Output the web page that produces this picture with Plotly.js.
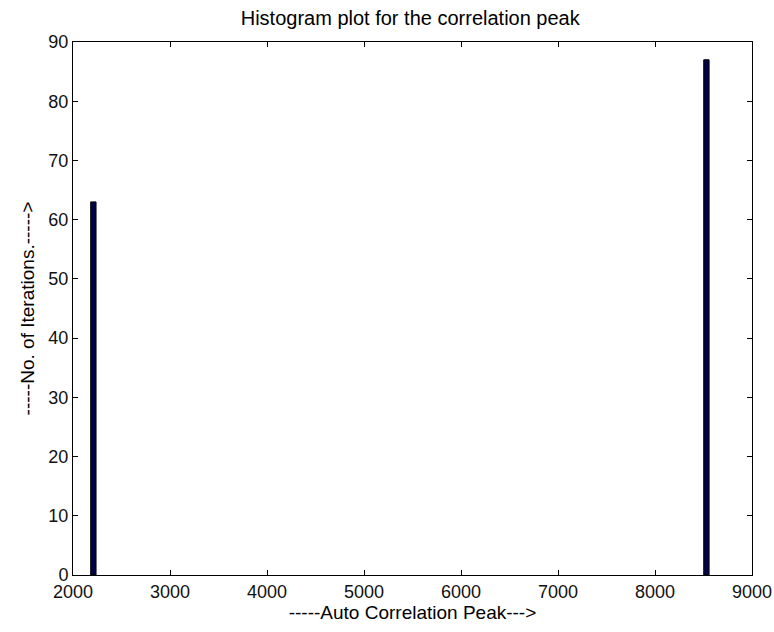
<!DOCTYPE html>
<html>
<head>
<script src="https://cdn.plot.ly/plotly-3.0.1.min.js"></script>
<style>body{margin:0;padding:0;background:#fff;}</style>
</head>
<body>
<div id="chart" style="width:774px;height:632px;"></div>
<script>
const binCenters = [2210, 8530];
const counts = [63, 87];
const xTicks = [2000, 3000, 4000, 5000, 6000, 7000, 8000, 9000];
const yTicks = [0, 10, 20, 30, 40, 50, 60, 70, 80, 90];

const FONT = 'Liberation Sans, Arial, sans-serif';

const trace = {
  type: 'bar',
  x: binCenters,
  y: counts,
  width: 55,
  marker: {color: '#000048', line: {color: '#000000', width: 1}},
  hoverinfo: 'x+y'
};

const axisCommon = {
  showline: true, mirror: 'ticks', linecolor: '#000', linewidth: 1,
  ticks: 'inside', ticklen: 5, tickcolor: '#000',
  showgrid: false, zeroline: false,
  tickfont: {family: FONT, size: 18, color: '#111'}
};

const layout = {
  width: 774, height: 632,
  margin: {l: 73, r: 22, t: 42, b: 57},
  paper_bgcolor: '#fff', plot_bgcolor: '#fff',
  showlegend: false,
  title: {text: 'Histogram plot for the correlation peak', x: 0.53, xanchor: 'center', y: 0.972, yanchor: 'middle',
          font: {family: FONT, size: 20, color: '#000'}},
  xaxis: Object.assign({}, axisCommon, {
    range: [2000, 9000], tickvals: xTicks, ticktext: xTicks.map(String),
    title: {text: '-----Auto Correlation Peak--->', standoff: 2, font: {family: FONT, size: 19, color: '#000'}}
  }),
  yaxis: Object.assign({}, axisCommon, {
    range: [0, 90], tickvals: yTicks, ticktext: yTicks.map(String),
    title: {text: '-----No. of Iterations.----->', standoff: 8, font: {family: FONT, size: 19, color: '#000'}}
  })
};

Plotly.newPlot('chart', [trace], layout, {displayModeBar: false, staticPlot: true});
</script>
</body>
</html>
